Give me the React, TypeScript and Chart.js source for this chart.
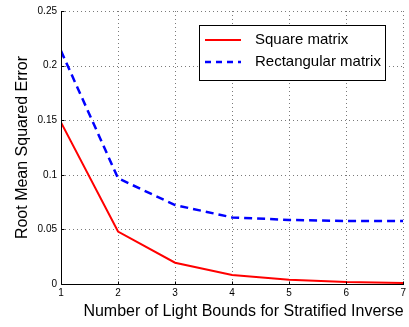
import React, { useEffect, useRef } from "react";
import { Chart, registerables } from "chart.js";

Chart.register(...registerables);

const bounces = [1, 2, 3, 4, 5, 6, 7];
const squareErr = [0.148, 0.048, 0.0195, 0.0082, 0.0038, 0.0018, 0.001];
const rectErr = [0.2135, 0.0968, 0.0723, 0.061, 0.0587, 0.0577, 0.0576];
const seriesNames = ["Square matrix", "Rectangular matrix"];
const xTitle = "Number of Light Bounds for Stratified Inverse";
const yTitle = "Root Mean Squared Error";

const FONT = "'Liberation Sans', Arial, Helvetica, sans-serif";

const decor = {
  id: "decor",
  beforeDatasetsDraw(chart: any) {
    const ctx = chart.ctx;
    const { left, right, top, bottom } = chart.chartArea;
    const xs = chart.scales.x;
    const ys = chart.scales.y;
    ctx.save();
    ctx.strokeStyle = "#7a7a7a";
    ctx.lineWidth = 1;
    ctx.setLineDash([1, 3]);
    ctx.beginPath();
    for (const t of ys.ticks) {
      if (t.value === 0) continue;
      const y = Math.round(ys.getPixelForValue(t.value)) + 0.5;
      ctx.moveTo(left, y);
      ctx.lineTo(right, y);
    }
    for (const t of xs.ticks) {
      if (t.value === 1) continue;
      const x = Math.round(xs.getPixelForValue(t.value)) + 0.5;
      ctx.moveTo(x, top);
      ctx.lineTo(x, bottom);
    }
    ctx.stroke();
    ctx.setLineDash([]);
    ctx.restore();
  },
  afterDraw(chart: any) {
    const ctx = chart.ctx;
    const { left, right, top, bottom } = chart.chartArea;
    const xs = chart.scales.x;
    const ys = chart.scales.y;
    ctx.save();
    // solid axes
    ctx.strokeStyle = "#000";
    ctx.lineWidth = 1;
    ctx.beginPath();
    const lx = Math.round(left) + 0.5;
    const by = Math.round(bottom) + 0.5;
    ctx.moveTo(lx, Math.round(top));
    ctx.lineTo(lx, by);
    ctx.lineTo(Math.round(right) + 1, by);
    // inward tick marks
    for (const t of ys.ticks) {
      const y = Math.round(ys.getPixelForValue(t.value)) + 0.5;
      ctx.moveTo(lx, y);
      ctx.lineTo(lx + 3, y);
    }
    for (const t of xs.ticks) {
      const x = Math.round(xs.getPixelForValue(t.value)) + 0.5;
      ctx.moveTo(x, by);
      ctx.lineTo(x, by - 3);
    }
    ctx.stroke();
    // x title
    ctx.fillStyle = "#000";
    ctx.font = `16px ${FONT}`;
    ctx.textAlign = "center";
    ctx.textBaseline = "alphabetic";
    ctx.fillText(xTitle, 243.5, 316);
    // legend
    const bx = 199.5, bby = 25.5, bw = 186, bh = 55;
    ctx.fillStyle = "#fff";
    ctx.fillRect(bx, bby, bw, bh);
    ctx.strokeStyle = "#000";
    ctx.lineWidth = 1;
    ctx.strokeRect(bx, bby, bw, bh);
    const ds = chart.data.datasets;
    const rows = [40, 62];
    ds.forEach((d: any, i: number) => {
      ctx.beginPath();
      ctx.strokeStyle = d.borderColor;
      ctx.lineWidth = d.borderWidth;
      ctx.setLineDash(i === 1 ? [6, 5] : []);
      ctx.moveTo(205, rows[i]);
      ctx.lineTo(241, rows[i]);
      ctx.stroke();
      ctx.setLineDash([]);
      ctx.fillStyle = "#000";
      ctx.font = `15px ${FONT}`;
      ctx.textBaseline = "middle";
      ctx.textAlign = "left";
      ctx.fillText(d.label, 255, rows[i]);
    });
    ctx.restore();
  },
};

export default function App() {
  const ref = useRef<HTMLCanvasElement>(null);
  useEffect(() => {
    document.body.style.margin = "0";
    const chart = new Chart(ref.current!, {
      type: "line",
      data: {
        datasets: [
          {
            label: seriesNames[0],
            data: bounces.map((b, i) => ({ x: b, y: squareErr[i] })),
            borderColor: "#ff0000",
            borderWidth: 2,
            pointRadius: 0,
            tension: 0,
          },
          {
            label: seriesNames[1],
            data: bounces.map((b, i) => ({ x: b, y: rectErr[i] })),
            borderColor: "#0000ff",
            borderWidth: 2.5,
            borderDash: [8, 5],
            pointRadius: 0,
            tension: 0,
          },
        ],
      },
      options: {
        animation: false,
        responsive: false,
        maintainAspectRatio: false,
        layout: { padding: { top: 11, right: 1, left: 0, bottom: 0 } },
        plugins: { legend: { display: false }, tooltip: { enabled: false } },
        scales: {
          x: {
            type: "linear",
            min: 1,
            max: 7,
            ticks: {
              stepSize: 1,
              color: "#000",
              font: { family: FONT, size: 10 },
              padding: 3,
              maxRotation: 0,
            },
            grid: { display: false, drawTicks: false },
            border: { display: false },
            afterFit(s: any) {
              s.height = 43;
            },
          },
          y: {
            min: 0,
            max: 0.25,
            ticks: {
              stepSize: 0.05,
              color: "#000",
              font: { family: FONT, size: 10 },
              padding: 4,
              callback: (v: any) => String(Math.round(Number(v) * 100) / 100),
            },
            grid: { display: false, drawTicks: false },
            border: { display: false },
            title: {
              display: true,
              text: yTitle,
              color: "#000",
              font: { family: FONT, size: 16 },
              padding: { top: 13, bottom: 0 },
            },
            afterFit(s: any) {
              s.width = 61;
            },
          },
        },
      },
      plugins: [decor],
    });
    return () => chart.destroy();
  }, []);
  return (
    <div style={{ position: "fixed", left: 0, top: 0, width: 409, height: 327 }}>
      <canvas ref={ref} width={409} height={327} style={{ width: 409, height: 327 }} />
    </div>
  );
}
